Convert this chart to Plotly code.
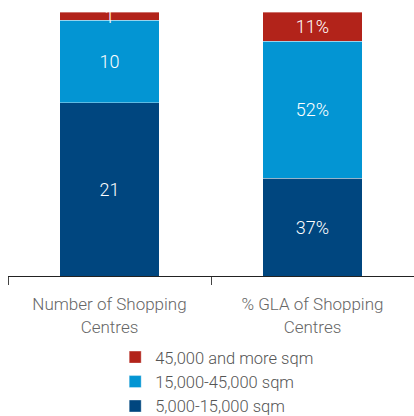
import plotly.graph_objects as go

categories = ["Number of Shopping<br>Centres", "% GLA of Shopping<br>Centres"]
series_names = ["5,000-15,000 sqm", "15,000-45,000 sqm", "45,000 and more sqm"]
count_values = [21, 10, 1]
gla_pct_values = [37, 52, 11]
colors = ["#00467F", "#0395D3", "#B2231A"]

fig = go.Figure()
for i, name in enumerate(series_names):
    vals = [count_values[i], gla_pct_values[i]]
    texts = [str(count_values[i]), f"{gla_pct_values[i]}%"]
    fig.add_trace(go.Bar(
        x=categories, y=vals, name=name, text=texts,
        textposition="inside", insidetextanchor="middle", textangle=0,
        textfont=dict(color="white", size=18, family="Roboto", weight=300),
        marker=dict(color=colors[i], line=dict(color="rgba(255,255,255,0.6)", width=0.6)),
        hoverinfo="skip",
    ))

fig.update_layout(
    barmode="stack", barnorm="percent", bargap=0.51,
    width=414, height=416,
    margin=dict(l=8, r=0, t=12, b=140, autoexpand=False),
    paper_bgcolor="white", plot_bgcolor="white",
    uniformtext=dict(minsize=18, mode="show"),
    showlegend=True,
    legend=dict(
        traceorder="reversed", orientation="v",
        x=0.264, xanchor="left",
        y=-0.242, yanchor="top",
        font=dict(family="Roboto", size=16.5, color="#555555", weight=300),
        itemwidth=30, bgcolor="rgba(0,0,0,0)",
    ),
    xaxis=dict(
        showline=True, linecolor="#222222", linewidth=1,
        ticks="outside", tickson="boundaries", ticklen=8, tickcolor="#444444",
        ticklabelstandoff=13, tickangle=0, automargin=False,
        tickfont=dict(family="Roboto", size=17, color="#666666", weight=300),
        range=[-0.5, 1.5], showgrid=False,
    ),
    yaxis=dict(visible=False, range=[0, 100], showgrid=False),
)

fig.write_html("out.html")
